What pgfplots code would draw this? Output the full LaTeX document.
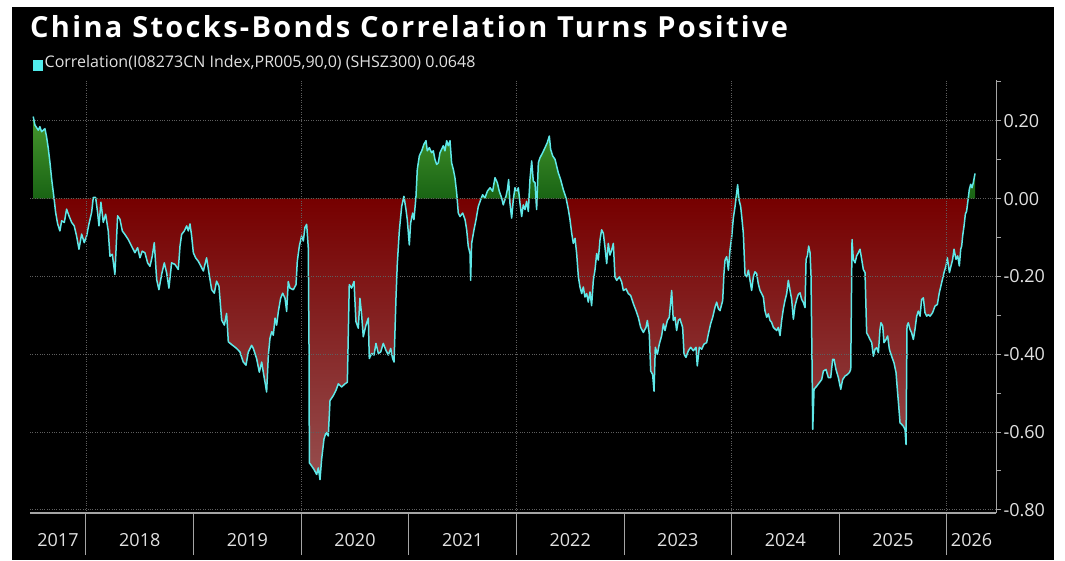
\documentclass[border=0pt]{standalone}
\usepackage{pgfplots}
\pgfplotsset{compat=1.18}
\usepackage{pgfplotstable}
\usepackage{fontspec}
\setmainfont{Open Sans}
\definecolor{linecyan}{RGB}{95,232,232}
\definecolor{legendcyan}{RGB}{80,235,235}
\definecolor{axisgray}{RGB}{165,165,165}
\definecolor{gridgray}{RGB}{95,95,95}
\definecolor{redtop}{RGB}{118,0,0}
\definecolor{redbot}{RGB}{150,78,78}
\definecolor{greentop}{RGB}{70,150,45}
\definecolor{greenbot}{RGB}{25,100,20}
\definecolor{labelgray}{RGB}{225,225,225}

\pgfplotstableread{
x y
2017.510 0.211
2017.526 0.189
2017.557 0.176
2017.572 0.185
2017.588 0.172
2017.619 0.180
2017.634 0.159
2017.650 0.129
2017.665 0.094
2017.681 0.051
2017.706 -0.005
2017.718 -0.035
2017.737 -0.065
2017.758 -0.083
2017.774 -0.057
2017.799 -0.061
2017.820 -0.027
2017.842 -0.044
2017.867 -0.061
2017.891 -0.070
2017.913 -0.096
2017.935 -0.130
2017.960 -0.091
2017.984 -0.113
2018.006 -0.096
2018.028 -0.065
2018.053 -0.035
2018.068 0.003
2018.090 0.003
2018.108 -0.035
2018.121 -0.070
2018.139 -0.009
2018.161 -0.061
2018.183 -0.040
2018.207 -0.083
2018.223 -0.148
2018.245 -0.143
2018.269 -0.195
2018.294 -0.044
2018.316 -0.053
2018.338 -0.083
2018.362 -0.092
2018.393 -0.105
2018.424 -0.122
2018.455 -0.139
2018.480 -0.126
2018.502 -0.152
2018.523 -0.135
2018.548 -0.139
2018.573 -0.165
2018.595 -0.174
2018.616 -0.148
2018.635 -0.113
2018.657 -0.208
2018.678 -0.234
2018.703 -0.195
2018.728 -0.165
2018.750 -0.191
2018.771 -0.230
2018.796 -0.165
2018.827 -0.169
2018.858 -0.182
2018.874 -0.122
2018.889 -0.092
2018.914 -0.083
2018.936 -0.070
2018.951 -0.083
2018.967 -0.065
2018.982 -0.096
2018.998 -0.139
2019.019 -0.152
2019.044 -0.161
2019.069 -0.174
2019.091 -0.186
2019.121 -0.152
2019.143 -0.191
2019.168 -0.234
2019.193 -0.243
2019.214 -0.212
2019.236 -0.225
2019.261 -0.312
2019.286 -0.325
2019.307 -0.295
2019.323 -0.368
2019.354 -0.375
2019.400 -0.385
2019.431 -0.394
2019.462 -0.420
2019.487 -0.428
2019.509 -0.394
2019.540 -0.377
2019.555 -0.385
2019.586 -0.411
2019.611 -0.446
2019.633 -0.420
2019.648 -0.446
2019.664 -0.472
2019.679 -0.497
2019.695 -0.402
2019.710 -0.359
2019.726 -0.342
2019.741 -0.351
2019.757 -0.307
2019.772 -0.325
2019.788 -0.290
2019.809 -0.256
2019.828 -0.243
2019.850 -0.256
2019.865 -0.290
2019.880 -0.213
2019.896 -0.230
2019.927 -0.234
2019.952 -0.221
2019.964 -0.161
2019.983 -0.122
2020.004 -0.096
2020.020 -0.109
2020.035 -0.074
2020.051 -0.066
2020.066 -0.126
2020.073 -0.385
2020.076 -0.679
2020.097 -0.687
2020.119 -0.696
2020.144 -0.709
2020.159 -0.692
2020.175 -0.722
2020.190 -0.670
2020.212 -0.618
2020.231 -0.601
2020.252 -0.610
2020.268 -0.519
2020.299 -0.506
2020.323 -0.493
2020.345 -0.476
2020.376 -0.484
2020.407 -0.476
2020.429 -0.472
2020.447 -0.221
2020.469 -0.230
2020.491 -0.213
2020.509 -0.316
2020.531 -0.333
2020.546 -0.256
2020.562 -0.299
2020.577 -0.355
2020.602 -0.325
2020.624 -0.307
2020.633 -0.411
2020.655 -0.398
2020.677 -0.402
2020.695 -0.372
2020.717 -0.398
2020.739 -0.394
2020.763 -0.372
2020.788 -0.390
2020.810 -0.402
2020.832 -0.385
2020.850 -0.411
2020.863 -0.420
2020.881 -0.256
2020.893 -0.169
2020.912 -0.083
2020.934 -0.020
2020.955 0.006
2020.974 -0.028
2020.986 -0.054
2021.005 -0.119
2021.017 -0.063
2021.036 -0.037
2021.048 -0.054
2021.067 0.006
2021.079 0.075
2021.098 0.110
2021.120 0.123
2021.141 0.140
2021.160 0.149
2021.172 0.123
2021.191 0.131
2021.212 0.118
2021.228 0.123
2021.243 0.101
2021.259 0.088
2021.274 0.092
2021.290 0.118
2021.305 0.127
2021.321 0.136
2021.336 0.123
2021.352 0.149
2021.367 0.136
2021.383 0.149
2021.398 0.092
2021.414 0.075
2021.429 0.054
2021.445 0.015
2021.460 -0.037
2021.476 -0.046
2021.501 -0.037
2021.523 -0.054
2021.538 -0.080
2021.553 -0.123
2021.569 -0.141
2021.575 -0.210
2021.584 -0.115
2021.606 -0.080
2021.625 -0.054
2021.646 -0.020
2021.668 -0.003
2021.686 0.010
2021.708 0.002
2021.730 0.019
2021.755 0.028
2021.779 0.019
2021.801 0.054
2021.823 0.041
2021.841 0.019
2021.863 0.002
2021.878 -0.016
2021.903 0.006
2021.916 0.023
2021.928 0.049
2021.940 -0.011
2021.956 -0.050
2021.971 -0.003
2021.987 0.028
2022.002 0.019
2022.018 0.028
2022.033 -0.011
2022.049 -0.046
2022.064 -0.016
2022.080 -0.028
2022.095 -0.007
2022.111 -0.033
2022.126 0.049
2022.142 0.097
2022.157 0.045
2022.173 0.041
2022.188 -0.028
2022.204 0.092
2022.219 0.105
2022.244 0.118
2022.266 0.131
2022.287 0.144
2022.306 0.161
2022.318 0.127
2022.337 0.110
2022.359 0.101
2022.374 0.084
2022.390 0.066
2022.411 0.049
2022.436 0.023
2022.461 0.002
2022.483 -0.028
2022.498 -0.054
2022.514 -0.089
2022.529 -0.115
2022.545 -0.102
2022.560 -0.141
2022.576 -0.201
2022.591 -0.227
2022.607 -0.244
2022.622 -0.227
2022.637 -0.253
2022.653 -0.244
2022.668 -0.266
2022.684 -0.240
2022.699 -0.275
2022.715 -0.210
2022.730 -0.184
2022.746 -0.141
2022.761 -0.158
2022.777 -0.106
2022.792 -0.080
2022.808 -0.089
2022.823 -0.124
2022.839 -0.167
2022.854 -0.115
2022.870 -0.145
2022.885 -0.132
2022.901 -0.115
2022.916 -0.201
2022.932 -0.210
2022.957 -0.201
2022.978 -0.214
2022.994 -0.236
2023.019 -0.232
2023.040 -0.244
2023.062 -0.249
2023.087 -0.270
2023.112 -0.288
2023.133 -0.305
2023.155 -0.331
2023.180 -0.344
2023.204 -0.331
2023.217 -0.313
2023.235 -0.348
2023.248 -0.443
2023.266 -0.452
2023.279 -0.495
2023.291 -0.382
2023.310 -0.400
2023.328 -0.374
2023.350 -0.352
2023.366 -0.322
2023.381 -0.339
2023.403 -0.313
2023.421 -0.305
2023.443 -0.236
2023.458 -0.313
2023.474 -0.305
2023.489 -0.339
2023.505 -0.313
2023.520 -0.309
2023.545 -0.331
2023.558 -0.400
2023.576 -0.408
2023.598 -0.391
2023.620 -0.382
2023.644 -0.391
2023.669 -0.382
2023.681 -0.430
2023.700 -0.382
2023.722 -0.387
2023.743 -0.374
2023.768 -0.370
2023.784 -0.348
2023.805 -0.322
2023.824 -0.305
2023.846 -0.279
2023.861 -0.266
2023.877 -0.283
2023.892 -0.288
2023.917 -0.262
2023.929 -0.193
2023.939 -0.158
2023.954 -0.149
2023.970 -0.184
2023.985 -0.132
2024.001 -0.098
2024.016 -0.050
2024.032 -0.020
2024.047 0.015
2024.056 0.036
2024.069 -0.003
2024.084 -0.020
2024.094 -0.046
2024.109 -0.089
2024.125 -0.197
2024.140 -0.201
2024.156 -0.184
2024.171 -0.210
2024.186 -0.236
2024.202 -0.201
2024.217 -0.188
2024.233 -0.193
2024.248 -0.219
2024.264 -0.236
2024.279 -0.244
2024.295 -0.253
2024.310 -0.288
2024.326 -0.305
2024.341 -0.296
2024.357 -0.313
2024.372 -0.318
2024.388 -0.331
2024.403 -0.335
2024.419 -0.339
2024.434 -0.331
2024.450 -0.352
2024.465 -0.313
2024.481 -0.283
2024.496 -0.262
2024.512 -0.244
2024.527 -0.210
2024.543 -0.236
2024.558 -0.259
2024.574 -0.310
2024.589 -0.276
2024.605 -0.259
2024.620 -0.246
2024.636 -0.242
2024.651 -0.259
2024.667 -0.267
2024.682 -0.280
2024.692 -0.156
2024.704 -0.147
2024.716 -0.122
2024.729 -0.139
2024.738 -0.199
2024.747 -0.413
2024.754 -0.593
2024.766 -0.490
2024.791 -0.482
2024.815 -0.473
2024.837 -0.465
2024.853 -0.443
2024.877 -0.439
2024.899 -0.460
2024.921 -0.460
2024.939 -0.413
2024.952 -0.413
2024.970 -0.439
2024.992 -0.460
2025.014 -0.490
2025.032 -0.465
2025.054 -0.456
2025.076 -0.452
2025.094 -0.447
2025.107 -0.439
2025.119 -0.105
2025.131 -0.156
2025.147 -0.165
2025.162 -0.147
2025.178 -0.139
2025.193 -0.130
2025.209 -0.156
2025.224 -0.182
2025.240 -0.190
2025.255 -0.345
2025.271 -0.353
2025.286 -0.362
2025.302 -0.370
2025.317 -0.405
2025.333 -0.387
2025.348 -0.383
2025.364 -0.396
2025.379 -0.336
2025.388 -0.319
2025.404 -0.327
2025.416 -0.370
2025.435 -0.362
2025.450 -0.353
2025.466 -0.387
2025.487 -0.405
2025.509 -0.422
2025.528 -0.447
2025.540 -0.490
2025.553 -0.533
2025.565 -0.576
2025.580 -0.580
2025.596 -0.585
2025.611 -0.593
2025.621 -0.632
2025.630 -0.327
2025.642 -0.319
2025.658 -0.336
2025.673 -0.345
2025.689 -0.362
2025.704 -0.336
2025.720 -0.302
2025.735 -0.289
2025.751 -0.302
2025.766 -0.259
2025.782 -0.255
2025.797 -0.293
2025.813 -0.302
2025.828 -0.298
2025.844 -0.302
2025.868 -0.293
2025.890 -0.276
2025.912 -0.272
2025.930 -0.242
2025.952 -0.216
2025.974 -0.190
2025.992 -0.173
2026.005 -0.152
2026.024 -0.190
2026.039 -0.173
2026.054 -0.156
2026.067 -0.130
2026.085 -0.156
2026.101 -0.147
2026.116 -0.173
2026.129 -0.130
2026.138 -0.122
2026.147 -0.096
2026.160 -0.070
2026.172 -0.040
2026.184 -0.032
2026.200 0.003
2026.209 0.024
2026.222 0.037
2026.234 0.028
2026.246 0.041
2026.262 0.0648
}\corrdata

\begin{document}
\begin{tikzpicture}
\fill[white] (0pt,0pt) rectangle (1065pt,560pt);
\fill[black] (12pt,0pt) rectangle (1054pt,553pt);
\node[anchor=base west, inner sep=0pt, text=white, font=\fontsize{29}{31}\selectfont\bfseries\addfontfeature{LetterSpace=8}] at (30pt,522pt) {China Stocks-Bonds Correlation Turns Positive};
\fill[legendcyan] (33pt,489pt) rectangle (43pt,500pt);
\node[anchor=base west, inner sep=0pt, text=labelgray, font=\fontsize{16}{18}\selectfont] at (44.5pt,492pt) {Correlation(I08273CN Index,PR005,90,0) (SHSZ300) 0.0648};

\begin{axis}[
  at={(30pt,47pt)}, anchor=south west, scale only axis,
  width=966pt, height=433pt,
  xmin=2017.48, xmax=2026.457, ymin=-0.808, ymax=0.305,
  axis y line=right, axis x line=bottom,
  x axis line style={draw=none},
  y axis line style={draw=axisgray, line width=1pt, -},
  xtick={2018,2020,2022,2024,2026}, xticklabels={}, xtick style={draw=none},
  xmajorgrids, ymajorgrids,
  grid style={gridgray, dotted, line width=0.8pt},
  ytick={-0.8,-0.6,-0.4,-0.2,0,0.2},
  yticklabels={-0.80,-0.60,-0.40,-0.20,0.00,0.20},
  minor ytick={-0.7,-0.5,-0.3,-0.1,0.1,0.3},
  ytick style={axisgray, line width=1pt},
  tick align=outside, major tick length=5pt, minor tick length=5pt,
  yticklabel style={font=\fontsize{18}{20}\selectfont, text=labelgray, anchor=west, xshift=-1pt},
  axis on top,
]
\addplot[draw=none, top color=redtop, bottom color=redbot] table[x=x, y expr={min(\thisrow{y},0)}] {\corrdata} \closedcycle;
\addplot[draw=none, top color=greentop, bottom color=greenbot] table[x=x, y expr={max(\thisrow{y},0)}] {\corrdata} \closedcycle;
\addplot[linecyan, line width=1.5pt, line join=round, mark=none] table[x=x, y=y] {\corrdata};
\end{axis}

\begin{axis}[
  at={(30pt,47pt)}, anchor=south west, scale only axis,
  width=966pt, height=433pt,
  xmin=2017.48, xmax=2026.457, ymin=-0.808, ymax=0.305,
  axis x line=bottom, axis y line=none,
  x axis line style={draw=axisgray, line width=1.2pt, -},
  xtick={2018,2019,2020,2021,2022,2023,2024,2025,2026}, xticklabels={},
  tick align=outside, major tick length=42pt,
  xtick style={axisgray, line width=1pt},
  extra x ticks={2017.74,2018.5,2019.5,2020.5,2021.5,2022.5,2023.5,2024.5,2025.5,2026.23},
  extra x tick labels={2017,2018,2019,2020,2021,2022,2023,2024,2025,2026},
  extra x tick style={xtick style={draw=none}, xticklabel style={yshift=25pt}},
  xticklabel style={font=\fontsize{18}{20}\selectfont, text=labelgray},
]
\end{axis}
\pgfresetboundingbox
\path[use as bounding box] (0pt,0pt) rectangle (1065pt,560pt);
\end{tikzpicture}
\end{document}
